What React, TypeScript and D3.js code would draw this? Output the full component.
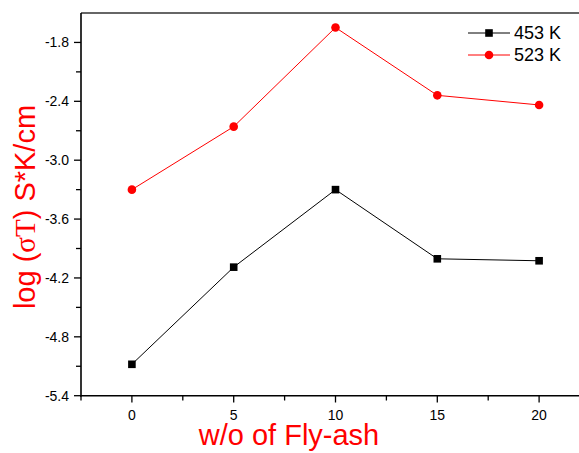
import React from "react";
import * as d3 from "d3";

const xValues = [0, 5, 10, 15, 20];
const series453 = [-5.08, -4.09, -3.3, -4.005, -4.025];
const series523 = [-3.3, -2.658, -1.648, -2.339, -2.437];
const yTicks = [-5.4, -4.8, -4.2, -3.6, -3.0, -2.4, -1.8];
const xTicks = [0, 5, 10, 15, 20];
const legendLabels = ["453 K", "523 K"];

const W = 579;
const H = 453;
const FONT = "'Liberation Sans', Arial, sans-serif";

export default function App() {
  const x = d3.scaleLinear().domain([-2.5, 22.5]).range([81, 590]);
  const y = d3.scaleLinear().domain([-5.4, -1.5]).range([395.7, 13]);
  const line = d3
    .line<number>()
    .x((_, i) => x(xValues[i]))
    .y((d) => y(d));

  const yMinor = d3.range(-5.1, -1.5, 0.6);
  const xMinor = d3.range(-2.5, 22.6, 5);

  return (
    <svg
      width={W}
      height={H}
      style={{ position: "absolute", left: 0, top: 0, background: "#fff" }}
      fontFamily={FONT}
    >
      <rect width={W} height={H} fill="#fff" />
      {/* frame */}
      <line x1={81} x2={590} y1={13} y2={13} stroke="#333" strokeWidth={1.5} />
      <line x1={81} x2={81} y1={13} y2={396.5} stroke="#000" strokeWidth={1.6} />
      <line x1={80} x2={590} y1={395.7} y2={395.7} stroke="#000" strokeWidth={1.6} />

      {/* y ticks */}
      {yTicks.map((t) => (
        <g key={"y" + t}>
          <line x1={74} x2={81} y1={y(t)} y2={y(t)} stroke="#000" strokeWidth={1.3} />
          <text x={69} y={y(t)} dy="0.36em" textAnchor="end" fontSize={14} fill="#000">
            {t.toFixed(1)}
          </text>
        </g>
      ))}
      {yMinor.map((t) => (
        <line key={"ym" + t} x1={76} x2={81} y1={y(t)} y2={y(t)} stroke="#000" strokeWidth={1.3} />
      ))}

      {/* x ticks */}
      {xTicks.map((t) => (
        <g key={"x" + t}>
          <line x1={x(t)} x2={x(t)} y1={395.7} y2={402.5} stroke="#000" strokeWidth={1.3} />
          <text x={x(t)} y={420} textAnchor="middle" fontSize={14} fill="#000">
            {t}
          </text>
        </g>
      ))}
      {xMinor.map((t) => (
        <line key={"xm" + t} x1={x(t)} x2={x(t)} y1={395.7} y2={400.5} stroke="#000" strokeWidth={1.3} />
      ))}

      {/* series */}
      <path d={line(series453) || ""} fill="none" stroke="#000" strokeWidth={1} />
      {series453.map((v, i) => (
        <rect key={"s" + i} x={x(xValues[i]) - 3.8} y={y(v) - 3.8} width={7.6} height={7.6} fill="#000" />
      ))}
      <path d={line(series523) || ""} fill="none" stroke="#ff0000" strokeWidth={1} />
      {series523.map((v, i) => (
        <circle key={"c" + i} cx={x(xValues[i])} cy={y(v)} r={4.3} fill="#ff0000" />
      ))}

      {/* legend */}
      <line x1={468} x2={510} y1={33} y2={33} stroke="#000" strokeWidth={1} />
      <rect x={489 - 3.8} y={33 - 3.8} width={7.6} height={7.6} fill="#000" />
      <text x={514} y={33} dy="0.36em" fontSize={18} fill="#000">
        {legendLabels[0]}
      </text>
      <line x1={468} x2={510} y1={55} y2={55} stroke="#ff0000" strokeWidth={1} />
      <circle cx={489} cy={55} r={4.3} fill="#ff0000" />
      <text x={514} y={55} dy="0.36em" fontSize={18} fill="#000">
        {legendLabels[1]}
      </text>

      {/* axis titles */}
      <text x={289} y={445} textAnchor="middle" fontSize={29} fill="#ff0000">
        w/o of Fly-ash
      </text>
      <text
        transform={`translate(35,${207}) rotate(-90)`}
        textAnchor="middle"
        fontSize={29}
        fill="#ff0000"
      >
        log (<tspan fontFamily="'Liberation Serif', 'Times New Roman', serif">σT</tspan>) S*K/cm
      </text>
    </svg>
  );
}
